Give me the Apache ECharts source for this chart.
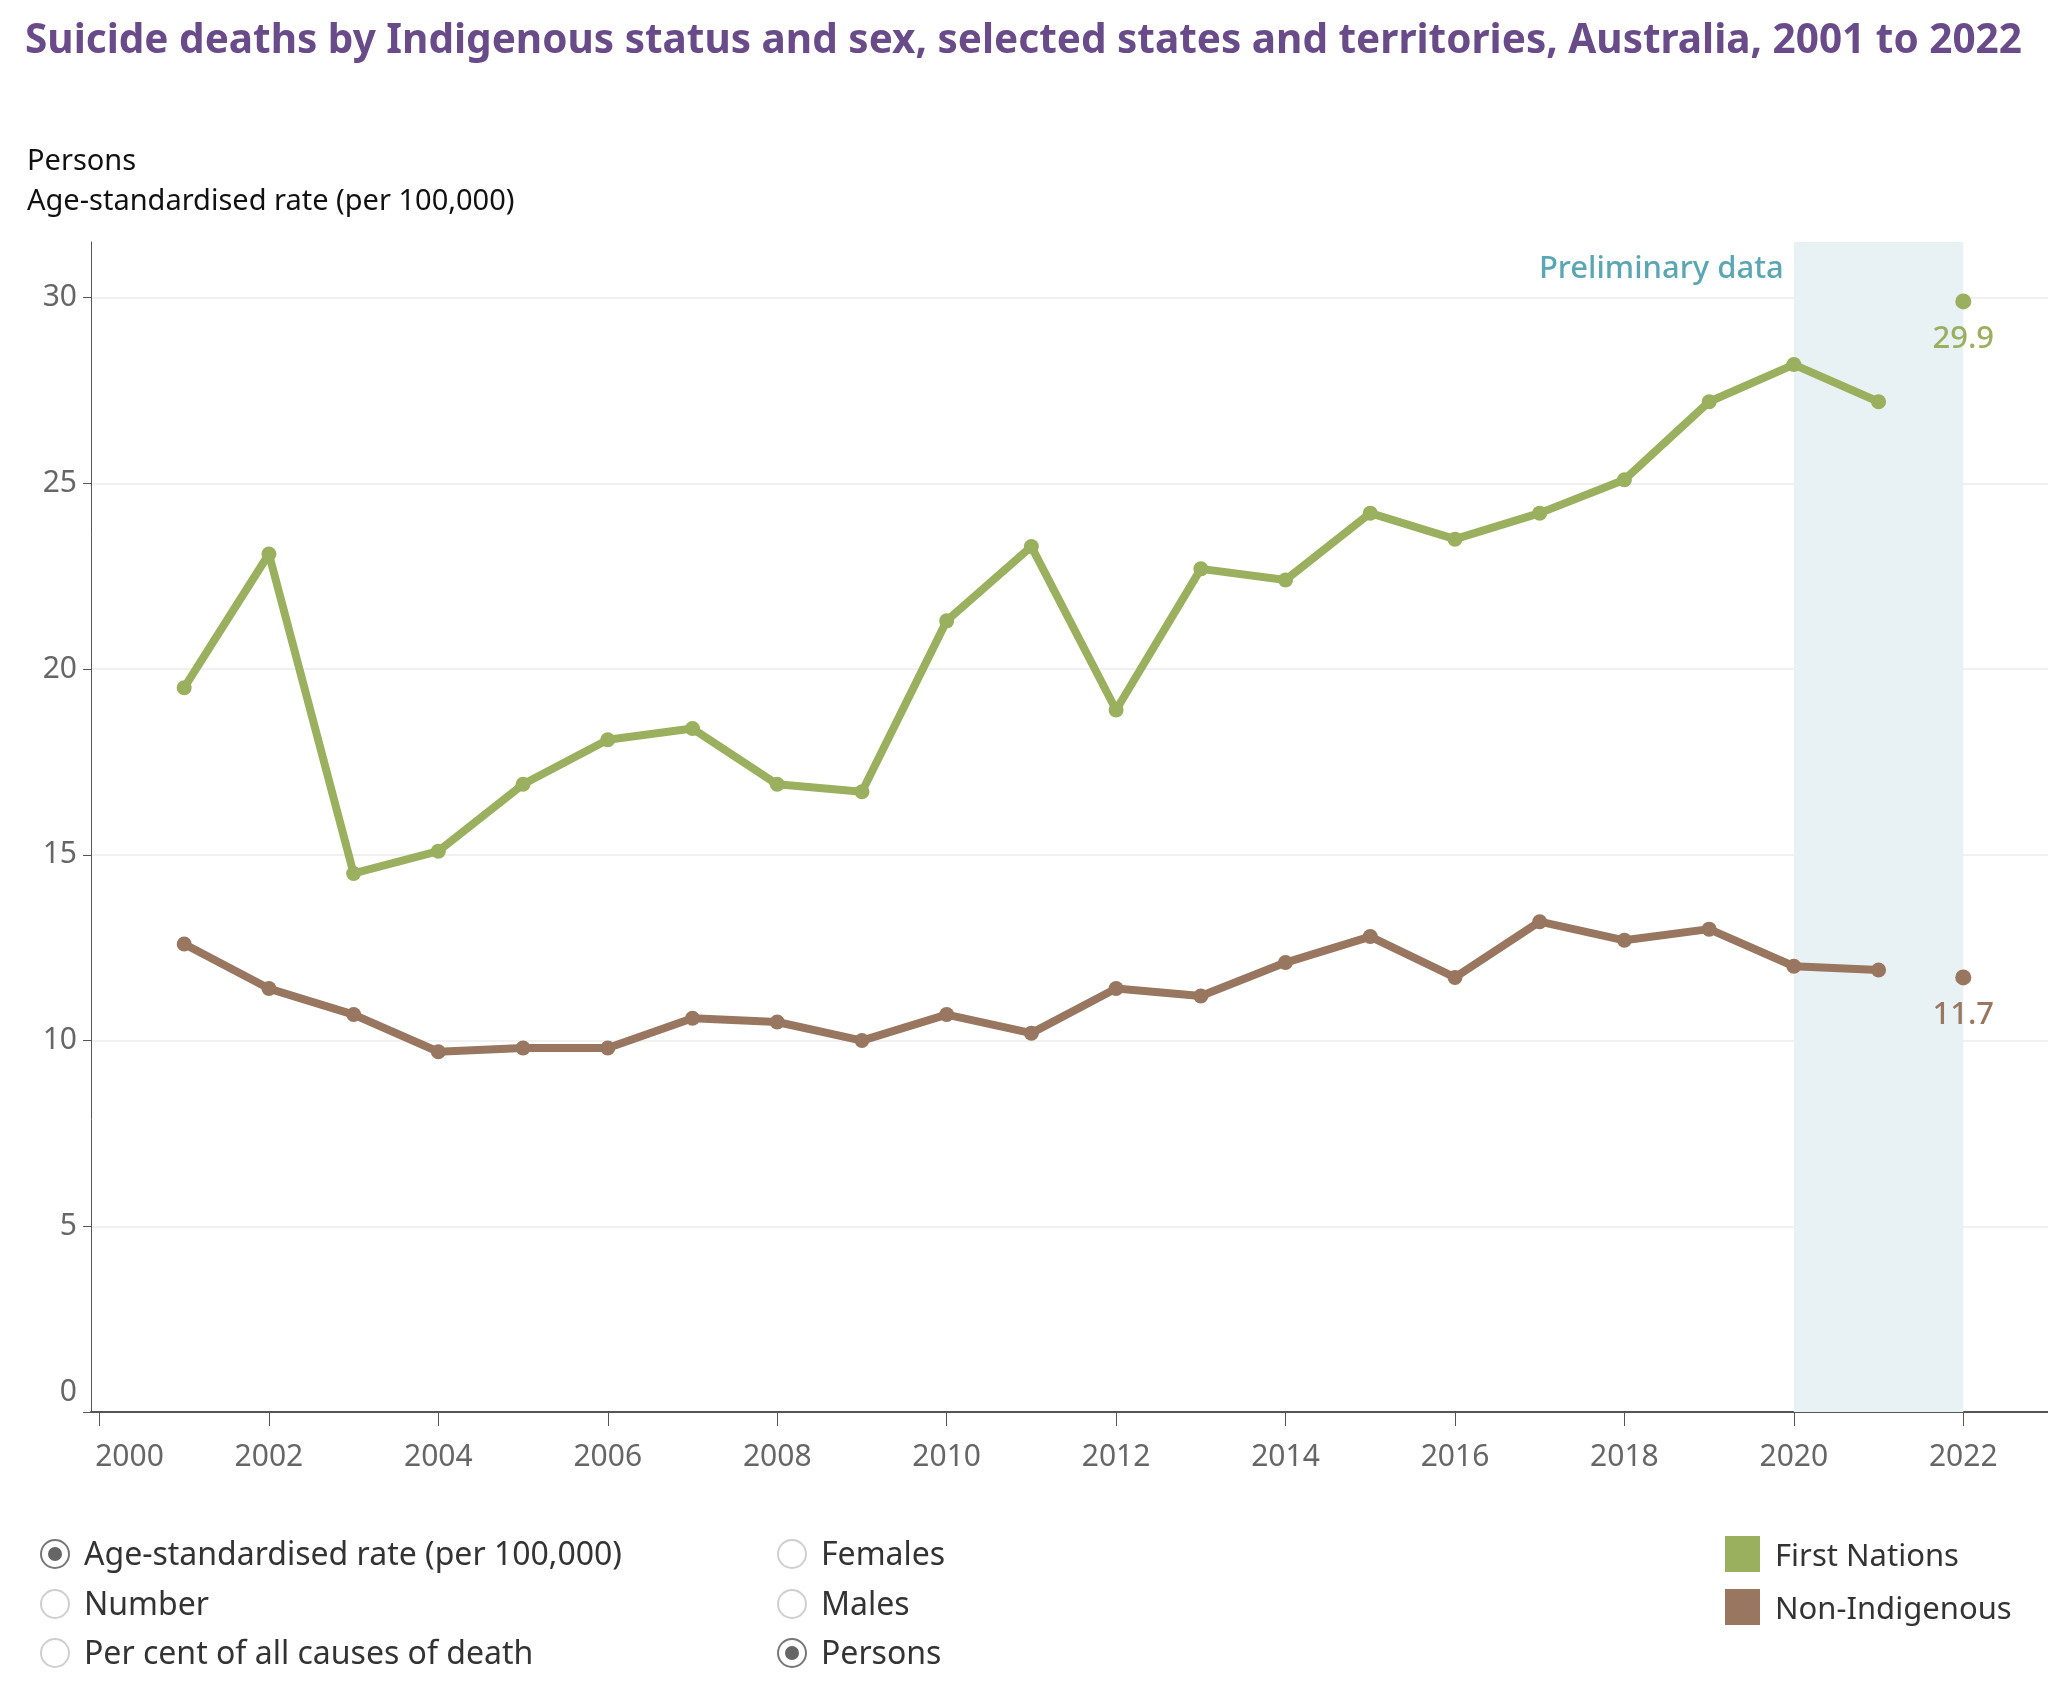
<!DOCTYPE html>
<html>
<head>
<meta charset="utf-8">
<script src="https://cdn.jsdelivr.net/npm/echarts@6/dist/echarts.min.js"></script>
<style>
  html, body { margin: 0; padding: 0; background: #fff; }
  #chart { width: 2048px; height: 1694px; }
</style>
</head>
<body>
<div id="chart"></div>
<script>
// data
const years = [2001, 2002, 2003, 2004, 2005, 2006, 2007, 2008, 2009, 2010, 2011,
  2012, 2013, 2014, 2015, 2016, 2017, 2018, 2019, 2020, 2021];
const firstNations = [19.5, 23.1, 14.5, 15.1, 16.9, 18.1, 18.4, 16.9, 16.7, 21.3, 23.3,
  18.9, 22.7, 22.4, 24.2, 23.5, 24.2, 25.1, 27.2, 28.2, 27.2];
const nonIndigenous = [12.6, 11.4, 10.7, 9.7, 9.8, 9.8, 10.6, 10.5, 10.0, 10.7, 10.2,
  11.4, 11.2, 12.1, 12.8, 11.7, 13.2, 12.7, 13.0, 12.0, 11.9];
const prelimYear = 2022;
const firstNationsPrelim = 29.9;
const nonIndigenousPrelim = 11.7;
const prelimBand = [2020, 2022];
const xTicks = [2000, 2002, 2004, 2006, 2008, 2010, 2012, 2014, 2016, 2018, 2020, 2022];
const yTicks = [0, 5, 10, 15, 20, 25, 30];

const GREEN = '#9ab05f';
const BROWN = '#98765f';
const FONT = '"Noto Sans", sans-serif';

let chart = echarts.init(document.getElementById('chart'));

function pairs(xs, ys) {
  return xs.map(function (x, i) { return [x, ys[i]]; });
}

// radio buttons + legend at the bottom (static controls)
function radio(x, y, label, on) {
  let items = [{
    type: 'circle', left: x - 15, top: y - 15,
    shape: { r: 14 },
    style: { fill: '#fff', stroke: on ? '#777' : '#cfcfcf', lineWidth: 2 }
  }, {
    type: 'text', left: x + 29, top: y - 14,
    style: { text: label, font: '32px ' + FONT, fill: '#333' }
  }];
  if (on) {
    items.push({
      type: 'circle', left: x - 7, top: y - 7,
      shape: { r: 7 }, style: { fill: '#666' }
    });
  }
  return items;
}

let controls = [].concat(
  radio(55, 1554, 'Age-standardised rate (per 100,000)', true),
  radio(55, 1604, 'Number', false),
  radio(55, 1653, 'Per cent of all causes of death', false),
  radio(792, 1554, 'Females', false),
  radio(792, 1604, 'Males', false),
  radio(792, 1653, 'Persons', true),
  [
    { type: 'rect', left: 1725, top: 1536, shape: { width: 35, height: 36 }, style: { fill: GREEN } },
    { type: 'text', left: 1775, top: 1542, style: { text: 'First Nations', font: '31px ' + FONT, fill: '#333' } },
    { type: 'rect', left: 1725, top: 1589, shape: { width: 35, height: 36 }, style: { fill: BROWN } },
    { type: 'text', left: 1775, top: 1595, style: { text: 'Non-Indigenous', font: '31px ' + FONT, fill: '#333' } }
  ]
);

let option = {
  backgroundColor: '#fff',
  animation: false,
  textStyle: { fontFamily: FONT },
  title: [{
    text: 'Suicide deaths by Indigenous status and sex, selected states and territories, Australia, 2001 to 2022',
    left: 20, top: 16,
    textStyle: { fontSize: 40.5, fontWeight: 'bold', color: '#694b89', fontFamily: FONT }
  }, {
    text: 'Persons',
    left: 22, top: 142,
    textStyle: { fontSize: 29, fontWeight: 'normal', color: '#111', fontFamily: FONT }
  }, {
    text: 'Age-standardised rate (per 100,000)',
    left: 22, top: 182,
    textStyle: { fontSize: 29, fontWeight: 'normal', color: '#111', fontFamily: FONT }
  }],
  grid: { left: 91, right: 0, top: 242, bottom: 282, containLabel: false },
  xAxis: {
    type: 'value',
    min: 1999.9,
    max: 2023,
    axisLine: { show: true, lineStyle: { color: '#555', width: 2 } },
    axisTick: { show: true, length: 14, customValues: xTicks, lineStyle: { color: '#555', width: 1 } },
    axisLabel: {
      customValues: xTicks, color: '#666', fontSize: 30, margin: 30,
      // first label sits inside the plot edge, as in the original
      formatter: function (v) { return v === xTicks[0] ? '{first|' + v + '}' : String(v); },
      rich: { first: { color: '#666', fontSize: 30, padding: [0, 0, 0, 60] } }
    },
    splitLine: { show: false }
  },
  yAxis: {
    type: 'value',
    min: 0,
    max: 31.5,
    axisLine: { show: true, lineStyle: { color: '#555', width: 1 } },
    axisTick: { show: true, length: 8, customValues: yTicks, lineStyle: { color: '#555' } },
    axisLabel: {
      customValues: yTicks, color: '#666', fontSize: 30, margin: 14,
      formatter: function (v) { return v === 0 ? '{zero|0}' : String(v); },
      rich: { zero: { color: '#666', fontSize: 30, padding: [0, 0, 40, 0] } }
    },
    splitLine: { show: true, lineStyle: { color: '#f0f0f0', width: 2 } }
  },
  series: [{
    name: 'First Nations',
    type: 'line',
    data: pairs(years, firstNations),
    symbol: 'circle',
    symbolSize: 15,
    lineStyle: { color: GREEN, width: 8 },
    itemStyle: { color: GREEN },
    z: 3,
    markArea: {
      silent: true,
      itemStyle: { color: '#e8f1f3' },
      label: {
        show: true,
        position: [-10, 27],
        align: 'right',
        verticalAlign: 'middle',
        color: '#5ba6b3',
        fontSize: 31,
        fontWeight: 500,
        fontFamily: FONT
      },
      data: [[{ xAxis: prelimBand[0], name: 'Preliminary data' }, { xAxis: prelimBand[1] }]]
    }
  }, {
    name: 'Non-Indigenous',
    type: 'line',
    data: pairs(years, nonIndigenous),
    symbol: 'circle',
    symbolSize: 15,
    lineStyle: { color: BROWN, width: 8 },
    itemStyle: { color: BROWN },
    z: 3
  }, {
    name: 'First Nations',
    type: 'scatter',
    data: [[prelimYear, firstNationsPrelim]],
    symbolSize: 16,
    itemStyle: { color: GREEN, opacity: 1 },
    label: { show: true, position: 'bottom', distance: 14, color: GREEN, fontSize: 31, fontWeight: 500,
      formatter: function (p) { return p.value[1].toFixed(1); } },
    z: 4
  }, {
    name: 'Non-Indigenous',
    type: 'scatter',
    data: [[prelimYear, nonIndigenousPrelim]],
    symbolSize: 16,
    itemStyle: { color: BROWN, opacity: 1 },
    label: { show: true, position: 'bottom', distance: 14, color: BROWN, fontSize: 31, fontWeight: 500,
      formatter: function (p) { return p.value[1].toFixed(1); } },
    z: 4
  }],
  graphic: controls
};

chart.setOption(option);
</script>
</body>
</html>
